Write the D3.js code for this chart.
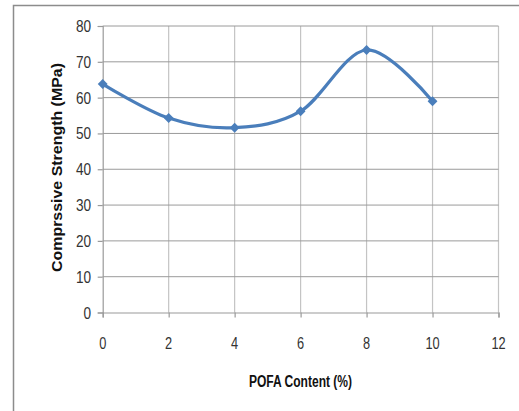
<!DOCTYPE html>
<html><head><meta charset="utf-8">
<script src="https://cdn.jsdelivr.net/npm/d3@7"></script>
<style>body{margin:0;background:#fff}svg{display:block}</style>
</head><body>
<svg id="c" width="519" height="411"></svg>
<script>
const xValues = [0, 2, 4, 6, 8, 10];
const strength = [63.8, 54.3, 51.6, 56.2, 73.3, 59.0];
const xTicks = [0, 2, 4, 6, 8, 10, 12];
const yTicks = [0, 10, 20, 30, 40, 50, 60, 70, 80];
const xTitle = "POFA Content (%)";
const yTitle = "Comprssive Strength (MPa)";

const svg = d3.select("#c");
const x = d3.scaleLinear().domain([0, 12]).range([102.7, 498.5]);
const y = d3.scaleLinear().domain([0, 80]).range([312.5, 26]);
const sans = "'Liberation Sans', Arial, sans-serif";

// outer frame (top and left edges visible)
svg.append("path").attr("d", "M13.5,519 L13.5,5.5 L519,5.5")
  .attr("fill", "none").attr("stroke", "#8c8c8c").attr("stroke-width", 1.5);

// vertical gridlines
svg.append("g").selectAll("line").data(xTicks.filter(d => d > 0)).join("line")
  .attr("x1", d => x(d)).attr("x2", d => x(d)).attr("y1", y(80)).attr("y2", y(0))
  .attr("stroke", "#c4c4c4").attr("stroke-width", 1.2);
// horizontal gridlines
svg.append("g").selectAll("line").data(yTicks.filter(d => d > 0)).join("line")
  .attr("x1", x(0)).attr("x2", x(12)).attr("y1", d => y(d)).attr("y2", d => y(d))
  .attr("stroke", "#9a9a9a").attr("stroke-width", 1);

// axes (lines and tick marks from d3 axes; labels drawn condensed below)
const yAxis = svg.append("g").attr("transform", `translate(${x(0)},0)`)
  .call(d3.axisLeft(y).tickValues(yTicks).tickSize(5).tickFormat(""));
const xAxis = svg.append("g").attr("transform", `translate(0,${y(0)})`)
  .call(d3.axisBottom(x).tickValues(xTicks).tickSize(5).tickFormat(""));
[yAxis, xAxis].forEach(g => {
  g.select(".domain").attr("stroke", "#9a9a9a").attr("stroke-width", 1.2);
  g.selectAll(".tick line").attr("stroke", "#9a9a9a").attr("stroke-width", 1.2);
});

// condensed tick labels
svg.append("g").selectAll("text").data(yTicks).join("text")
  .attr("transform", d => `translate(91,${y(d) + 6}) scale(0.8,1)`)
  .attr("text-anchor", "end").attr("fill", "#333")
  .style("font-family", sans).style("font-size", "17px").text(d => d);
svg.append("g").selectAll("text").data(xTicks).join("text")
  .attr("transform", d => `translate(${x(d)},348.5) scale(0.8,1)`)
  .attr("text-anchor", "middle").attr("fill", "#333")
  .style("font-family", sans).style("font-size", "16px").text(d => d);

// line
const line = d3.line().x((d, i) => x(xValues[i])).y(d => y(d)).curve(d3.curveCardinal.tension(0));
svg.append("path").datum(strength).attr("d", line)
  .attr("fill", "none").attr("stroke", "#4a7ebb").attr("stroke-width", 3.2);

// diamond markers
svg.append("g").selectAll("path").data(strength).join("path")
  .attr("transform", (d, i) => `translate(${x(xValues[i])},${y(d)})`)
  .attr("d", d3.symbol(d3.symbolDiamond2, 62)())
  .attr("fill", "#4a7ebb");

// titles
svg.append("text").attr("x", 249).attr("y", 387)
  .attr("textLength", 103).attr("lengthAdjust", "spacingAndGlyphs")
  .style("font-family", sans).style("font-weight", "bold").style("font-size", "16px")
  .attr("fill", "#111").text(xTitle);
svg.append("text").attr("transform", "translate(61.5,272) rotate(-90)")
  .attr("textLength", 209).attr("lengthAdjust", "spacingAndGlyphs")
  .style("font-family", sans).style("font-weight", "bold").style("font-size", "14px")
  .attr("fill", "#111").text(yTitle);
</script>
</body></html>
